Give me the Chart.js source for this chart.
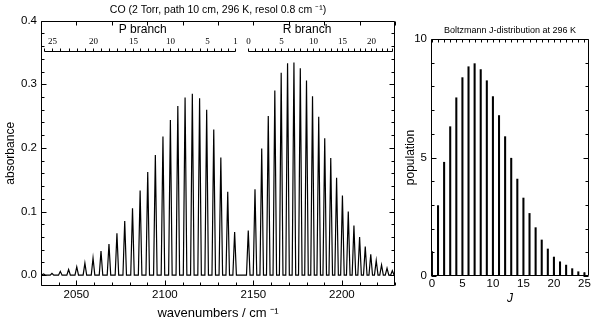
<!DOCTYPE html>
<html><head><meta charset="utf-8">
<script src="https://cdn.jsdelivr.net/npm/chart.js@4/dist/chart.umd.min.js"></script>
<style>
html,body{margin:0;padding:0;background:#fff;width:598px;height:322px;overflow:hidden}
#c1{position:absolute;left:0;top:0}
#c2{position:absolute;left:400px;top:0}
</style></head><body>
<canvas id="c1" width="400" height="322"></canvas>
<canvas id="c2" width="198" height="322"></canvas>
<script>
// ---------- data: CO spectrum, P branch (J = 1..26) ----------
const pJ = [1,2,3,4,5,6,7,8,9,10,11,12,13,14,15,16,17,18,19,20,21,22,23,24,25,26];
const pWavenumber = [2139.4,2135.5,2131.6,2127.6,2123.6,2119.6,2115.5,2111.4,2107.3,2103.1,2098.9,2094.6,2090.3,2086.0,2081.7,2077.3,2072.9,2068.4,2063.9,2059.4,2054.8,2050.2,2045.6,2040.9,2036.2,2031.5];
const pAbsorbance = [0.068,0.131,0.185,0.229,0.260,0.278,0.285,0.279,0.266,0.244,0.218,0.189,0.162,0.133,0.105,0.085,0.066,0.049,0.038,0.027,0.019,0.013,0.009,0.006,0.003,0.002];
// ---------- R branch (J = 0..24) ----------
const rJ = [0,1,2,3,4,5,6,7,8,9,10,11,12,13,14,15,16,17,18,19,20,21,22,23,24];
const rWavenumber = [2147.1,2150.9,2154.7,2158.4,2162.1,2165.7,2169.3,2172.9,2176.5,2180.0,2183.4,2186.9,2190.3,2193.7,2197.0,2200.3,2203.6,2206.8,2210.0,2213.2,2216.3,2219.4,2222.4,2225.5,2228.5];
const rAbsorbance = [0.070,0.135,0.199,0.250,0.290,0.318,0.333,0.334,0.325,0.306,0.281,0.249,0.215,0.184,0.153,0.125,0.100,0.078,0.060,0.045,0.033,0.023,0.016,0.011,0.007];
// ---------- tick labels ----------
const wavenumberTicks = [2050,2100,2150,2200];
const absorbanceTicks = [0,0.1,0.2,0.3,0.4];
const pRulerLabels = [25,20,15,10,5,1];
const rRulerLabels = [0,5,10,15,20];
// ---------- Boltzmann J distribution ----------
const boltzJ = [0,1,2,3,4,5,6,7,8,9,10,11,12,13,14,15,16,17,18,19,20,21,22,23,24,25];
const population = [1.03,2.97,4.80,6.30,7.52,8.37,8.83,8.96,8.71,8.24,7.57,6.77,5.88,4.97,4.09,3.29,2.64,2.04,1.52,1.14,0.80,0.60,0.46,0.31,0.18,0.14];
const jTicks = [0,5,10,15,20,25];
const populationTicks = [0,5,10];

// ---------- styling / helpers ----------
const FONT = "'Liberation Sans', Arial, Helvetica, sans-serif";
const SERIF = "'Liberation Serif', 'Times New Roman', serif";
Chart.defaults.font.family = FONT;
Chart.defaults.color = '#000';

function range(from, to, step){ const a=[]; for(let v=from; v<=to+1e-9; v+=step) a.push(+v.toFixed(6)); return a; }

function framePlugin(spec){
  return {id:'frame', afterDraw(chart){
    const {ctx, chartArea:a, scales} = chart;
    const xs = scales.x, ys = scales.y;
    const L=Math.round(a.left)+0.5, R=Math.round(a.right)-0.5, T=Math.round(a.top)+0.5, B=Math.round(a.bottom)-0.5;
    ctx.save(); ctx.strokeStyle='#000'; ctx.lineWidth=1;
    ctx.beginPath();
    ctx.rect(L,T,R-L,B-T);
    spec.bottom.forEach(([v,len])=>{const p=Math.round(xs.getPixelForValue(v))+0.5; ctx.moveTo(p,B); ctx.lineTo(p,B-len);});
    spec.top.forEach(([v,len])=>{const p=Math.round(xs.getPixelForValue(v))+0.5; ctx.moveTo(p,T); ctx.lineTo(p,T+len);});
    spec.left.forEach(([v,len])=>{const p=Math.round(ys.getPixelForValue(v))+0.5; ctx.moveTo(L,p); ctx.lineTo(L+len,p);});
    spec.right.forEach(([v,len])=>{const p=Math.round(ys.getPixelForValue(v))+0.5; ctx.moveTo(R,p); ctx.lineTo(R-len,p);});
    ctx.stroke(); ctx.restore();
  }};
}

// ---------- spectrum ----------
const LINE_HALF_WIDTH = 1.0; // cm-1, drawn line-profile half width
const lines = pWavenumber.map((n,i)=>({nu:n,a:pAbsorbance[i]}))
  .concat(rWavenumber.map((n,i)=>({nu:n,a:rAbsorbance[i]})))
  .sort((p,q)=>p.nu-q.nu);
const spectrum = [{x:2030,y:0}];
lines.forEach(l=>{ spectrum.push({x:l.nu-LINE_HALF_WIDTH,y:0},{x:l.nu,y:l.a},{x:l.nu+LINE_HALF_WIDTH,y:0}); });
spectrum.push({x:2230,y:0});

const RULER_LEVEL = 0.352;
const rulerPlugin = {id:'ruler', afterDatasetsDraw(chart){
  const {ctx, scales:{x,y}} = chart;
  const yb = Math.round(y.getPixelForValue(RULER_LEVEL))+0.5;
  ctx.save(); ctx.strokeStyle='#000'; ctx.fillStyle='#000'; ctx.lineWidth=1;
  const draw=(nus, js, labels, name, nameAt)=>{
    const px = nus.map(n=>Math.round(x.getPixelForValue(n))+0.5);
    ctx.beginPath();
    ctx.moveTo(Math.min(...px), yb); ctx.lineTo(Math.max(...px), yb);
    px.forEach(p=>{ctx.moveTo(p,yb); ctx.lineTo(p,yb-3);});
    ctx.stroke();
    ctx.font = "9px " + SERIF; ctx.textAlign='center'; ctx.textBaseline='middle';
    labels.forEach(j=>{ const i=js.indexOf(j); ctx.fillText(String(j), px[i], yb-10); });
    ctx.font = "12px " + FONT;
    ctx.fillText(name, x.getPixelForValue(nameAt), yb-22);
  };
  draw(pWavenumber, pJ, pRulerLabels, 'P branch', 2087.5);
  draw(rWavenumber, rJ, rRulerLabels, 'R branch', 2180.3);
  ctx.restore();
}};

new Chart(document.getElementById('c1'), {
  type:'line',
  data:{datasets:[{data:spectrum, borderColor:'#000', borderWidth:1.2, pointRadius:0, tension:0, fill:false}]},
  options:{
    responsive:false, animation:false, events:[],
    layout:{padding:{left:0,right:5,top:0,bottom:0}},
    plugins:{legend:{display:false}, tooltip:{enabled:false},
      title:{display:true, fullSize:false, text:'CO (2 Torr, path 10 cm, 296 K, resol 0.8 cm \u207B\u00B9)',
        font:{size:10.5, weight:'normal'}, color:'#000', padding:{top:4,bottom:4}}},
    scales:{
      x:{type:'linear', min:2030, max:2230, grid:{display:false, drawTicks:false}, border:{display:false},
        afterBuildTicks:s=>{s.ticks = wavenumberTicks.map(v=>({value:v}));},
        ticks:{font:{size:11.5}, color:'#000', padding:2, maxRotation:0, autoSkip:false, callback:v=>String(v)},
        title:{display:true, text:'wavenumbers / cm \u207B\u00B9', font:{size:13}, color:'#000', padding:{top:0,bottom:1}},
        afterFit:s=>{s.height=36;}},
      y:{type:'linear', min:-0.017, max:0.4, grid:{display:false, drawTicks:false}, border:{display:false},
        afterBuildTicks:s=>{s.ticks = absorbanceTicks.map(v=>({value:v}));},
        ticks:{font:{size:11.5}, color:'#000', padding:4, callback:v=>v.toFixed(1)},
        title:{display:true, text:'absorbance', font:{size:12}, color:'#000', padding:{top:3,bottom:0}},
        afterFit:s=>{s.width=41;}}
    }
  },
  plugins:[rulerPlugin, framePlugin({
    bottom: range(2030,2230,10).map(v=>[v, v%50===0?5:3]),
    top: range(2030,2230,20).map(v=>[v,4]),
    left: range(0,0.4,0.02).map(v=>[v, Math.abs(v*10-Math.round(v*10))<1e-6?5:3]),
    right: range(0,0.4,0.02).map(v=>[v, Math.abs(v*10-Math.round(v*10))<1e-6?5:3])
  })]
});

// ---------- Boltzmann distribution ----------
new Chart(document.getElementById('c2'), {
  type:'bar',
  data:{datasets:[{data:boltzJ.map((j,i)=>({x:j,y:population[i]})), backgroundColor:'#000', borderWidth:0, barThickness:1.4}]},
  options:{
    responsive:false, animation:false, events:[],
    layout:{padding:{left:0,right:9,top:0,bottom:0}},
    plugins:{legend:{display:false}, tooltip:{enabled:false},
      title:{display:true, fullSize:false, text:'Boltzmann J-distribution at 296 K',
        font:{size:9, weight:'normal'}, color:'#000', padding:{top:25,bottom:3.2}}},
    scales:{
      x:{type:'linear', offset:false, min:-0.15, max:25.75, grid:{display:false, drawTicks:false}, border:{display:false},
        afterBuildTicks:s=>{s.ticks = jTicks.map(v=>({value:v}));},
        ticks:{font:{size:11.5}, color:'#000', padding:1, maxRotation:0, autoSkip:false, callback:v=>String(v)},
        title:{display:true, text:'J', font:{size:12, style:'italic'}, color:'#000', padding:{top:0,bottom:16}},
        afterFit:s=>{s.height=46;}},
      y:{type:'linear', min:0, max:10, grid:{display:false, drawTicks:false}, border:{display:false},
        afterBuildTicks:s=>{s.ticks = populationTicks.map(v=>({value:v}));},
        ticks:{font:{size:11.5}, color:'#000', padding:4, callback:v=>String(v)},
        title:{display:true, text:'population', font:{size:12}, color:'#000', padding:{top:3,bottom:0}},
        afterFit:s=>{s.width=31;}}
    }
  },
  plugins:[framePlugin({
    bottom: jTicks.map(v=>[v,3]),
    top: range(0,25,1).map(v=>[v,3]),
    left: range(0,10,1).map(v=>[v, v%5===0?5:3]),
    right: range(0,10,1).map(v=>[v, v%5===0?5:3])
  })]
});
</script>
</body></html>
